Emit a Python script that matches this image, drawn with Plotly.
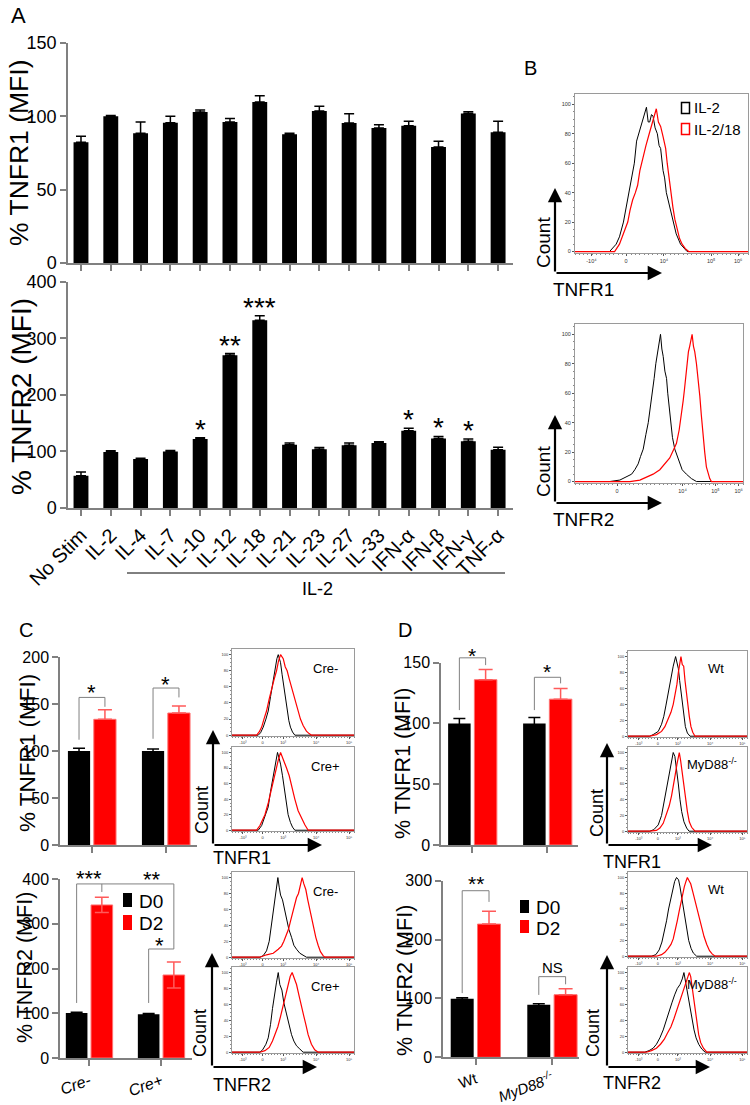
import plotly.graph_objects as go

W, H = 750, 1105          # target picture size
OFF = 0                   # page margin removed by the post script below
FW, FH = W - OFF, H - OFF
FONT = "Liberation Sans, Arial, Helvetica, sans-serif"
AX = "#808080"
RED = "#ff0000"
RED_EDGE = "#ff7070"
RED_ERR = "#ff5a5a"

# ================= DATA =================
# Panel A (% MFI, mean and SEM)
cytokines = ["No Stim", "IL-2", "IL-4", "IL-7", "IL-10", "IL-12", "IL-18", "IL-21",
             "IL-23", "IL-27", "IL-33", "IFN-α", "IFN-β", "IFN-γ", "TNF-α"]
tnfr1_mfi = [82.3, 100, 88.4, 95.7, 103, 96.1, 109.8, 87.7, 103.6, 95.5, 92, 93.6, 79.1, 102, 89.1]
tnfr1_err = [4.1, 0.6, 7.7, 4.3, 1.3, 2.5, 4.2, 0.7, 3.2, 6.3, 2.3, 3.0, 3.9, 1.2, 7.5]
tnfr2_mfi = [57, 98.8, 86.5, 100, 121.8, 270, 331.8, 111.8, 104, 111, 114.7, 136.5, 123, 118, 103]
tnfr2_err = [6.5, 2.2, 1.5, 1.8, 2.2, 3, 8.2, 2.9, 3, 3.7, 2.3, 4.5, 3.5, 4, 4.6]
tnfr2_sig = ["", "", "", "", "*", "**", "***", "", "", "", "", "*", "*", "*", ""]

# Panel C
c_groups = ["Cre-", "Cre+"]
c_tnfr1_d0 = [100, 100]
c_tnfr1_d0_err = [3, 2]
c_tnfr1_d2 = [133.7, 140.4]
c_tnfr1_d2_err = [10.3, 7.6]
c_tnfr2_d0 = [100.5, 98]
c_tnfr2_d0_err = [1.5, 1.5]
c_tnfr2_d2 = [342, 185.5]
c_tnfr2_d2_err = [17, 29]

# Panel D
d_groups = ["Wt", "MyD88-/-"]
d_tnfr1_d0 = [100, 100]
d_tnfr1_d0_err = [4, 5]
d_tnfr1_d2 = [136, 120]
d_tnfr1_d2_err = [8.4, 8.8]
d_tnfr2_d0 = [99.5, 89.3]
d_tnfr2_d0_err = [1.5, 1.7]
d_tnfr2_d2 = [226.3, 106.3]
d_tnfr2_d2_err = [21.7, 10.2]

# Flow histograms: x = position on display scale (0-100), y = count (% of max)
b1_black_x = [0, 20, 23.8, 25.7, 28, 29.9, 31.4, 33, 34.3, 35.6, 36.8, 38.1, 39.4, 40.6, 41.3, 42.3, 43.2, 44.2, 45.1, 46.3, 47.6, 48.6, 49.5, 50.9, 51.8, 52.8, 54.7, 56.6, 58.5, 61, 64.8, 100]
b1_black_y = [0, 0, 5, 10, 20, 32, 40, 52, 60, 75, 80, 85, 90, 96, 98, 88, 88, 93, 92, 84, 80, 72, 70, 55, 50, 40, 30, 20, 12, 5, 0, 0]
b1_red_x = [0, 22.9, 25.7, 28, 30.5, 31.8, 33.3, 34.9, 36.2, 37.5, 39.4, 41, 42.9, 44.4, 45.7, 47, 48.2, 49.5, 50.9, 52.4, 53.3, 54.3, 55.4, 56.6, 57.7, 59, 60.4, 61.9, 63.8, 65.7, 100]
b1_red_y = [0, 0, 5, 12, 20, 28, 35, 40, 45, 55, 65, 72, 80, 86, 90, 97, 88, 85, 78, 70, 60, 50, 40, 30, 22, 15, 9, 5, 2, 0, 0]
b2_black_x = [0, 20.8, 26.7, 30.7, 33.7, 35.6, 37.6, 39, 40.6, 42.2, 43.6, 45, 46.1, 47.1, 48.1, 49.1, 50.1, 50.9, 51.7, 52.5, 53.5, 54.5, 55.2, 56, 57, 58, 59.4, 61.4, 63.8, 66.3, 69.3, 72.3, 100]
b2_black_y = [0, 0, 1, 3, 5, 8, 12, 17, 22, 32, 40, 52, 60, 70, 80, 88, 95, 100, 90, 85, 75, 70, 60, 50, 40, 30, 22, 15, 8, 5, 2, 0, 0]
b2_red_x = [0, 32.7, 38.6, 42.6, 46.5, 50.5, 53.5, 56.4, 58.8, 60.4, 62, 63.4, 64.4, 65.1, 65.7, 66.7, 67.5, 68.3, 69.1, 69.7, 70.5, 71.3, 72.3, 73.3, 74.3, 75.2, 76.2, 77.2, 78.2, 79.2, 80.2, 81.2, 100]
b2_red_y = [0, 0, 1, 3, 5, 8, 12, 16, 22, 26, 35, 45, 55, 62, 70, 80, 88, 92, 97, 100, 92, 88, 80, 70, 58, 45, 30, 20, 10, 5, 2, 0, 0]

c_h1_black_x = [0, 21.5, 23.4, 25.6, 27.8, 29.7, 31.6, 33, 34.3, 35.7, 36.8, 37.9, 38.96, 39.8, 41.1, 42.5, 43.9, 45.2, 46.6, 47.9, 49.6, 51.5, 100]
c_h1_black_y = [0, 0, 3, 10, 20, 30, 48, 60, 75, 85, 95, 100, 92, 90, 75, 60, 45, 30, 18, 10, 4, 0, 0]
c_h1_red_x = [0, 20.2, 22.3, 24.3, 26.2, 28.3, 30.5, 32.4, 34.3, 36.5, 38.1, 39.8, 40.9, 42, 43.6, 45.2, 46.9, 48.8, 50.7, 52.3, 54.2, 56.1, 58.3, 61, 63.2, 65.1, 100]
c_h1_red_y = [0, 0, 4, 10, 20, 30, 45, 55, 68, 80, 92, 100, 97, 95, 85, 80, 70, 60, 48, 40, 30, 20, 12, 5, 2, 0, 0]
c_h2_black_x = [0, 21.5, 24.3, 27, 29.7, 31.6, 33.8, 35.4, 37.3, 38.7, 39.8, 41.4, 43.3, 44.7, 46, 47.9, 49.6, 51.5, 100]
c_h2_black_y = [0, 0, 6, 18, 30, 50, 70, 85, 100, 92, 85, 70, 50, 35, 20, 10, 4, 0, 0]
c_h2_red_x = [0, 20.2, 22.9, 25.1, 27, 29.7, 31.9, 33.8, 36, 37.9, 39.8, 41.1, 42.5, 44.7, 46.9, 49, 51.5, 54.2, 56.9, 59.7, 62.4, 100]
c_h2_red_y = [0, 0, 6, 14, 20, 35, 50, 65, 80, 90, 100, 95, 90, 80, 70, 55, 40, 25, 15, 7, 0, 0]
c_h3_black_x = [0, 22.9, 25.6, 28.3, 30.5, 32.4, 33.8, 35.1, 36.5, 37.6, 38.7, 39.8, 41.4, 43.1, 44.7, 46.6, 48.8, 50.7, 52.9, 55.6, 61, 100]
c_h3_black_y = [0, 0, 2, 8, 20, 40, 55, 70, 82, 100, 88, 78, 72, 60, 50, 35, 25, 15, 10, 5, 0, 0]
c_h3_red_x = [0, 22.9, 28.3, 33.8, 37.9, 40.6, 42.5, 44.7, 46.3, 47.9, 49.6, 51.2, 52.9, 54.5, 56.1, 57.5, 58.9, 60.5, 62.1, 63.8, 65.4, 67, 68.7, 70.6, 72.5, 74.7, 76, 100]
c_h3_red_y = [0, 0, 3, 5, 10, 14, 20, 28, 35, 45, 55, 65, 75, 80, 90, 100, 92, 85, 72, 60, 45, 35, 25, 15, 7, 2, 0, 0]
c_h4_black_x = [0, 22.9, 25.1, 27.8, 29.7, 31.6, 33.2, 34.9, 36.5, 37.9, 39.2, 40.9, 42.5, 44.7, 46.9, 48.8, 50.7, 52.9, 55.6, 58.3, 100]
c_h4_black_y = [0, 0, 3, 10, 18, 35, 55, 75, 88, 100, 85, 78, 62, 48, 32, 22, 14, 8, 4, 0, 0]
c_h4_red_x = [0, 22.9, 27, 30.5, 33.2, 35.4, 37.6, 39.8, 42, 43.9, 46, 47.7, 49.3, 50.9, 52.9, 54.8, 56.9, 58.9, 60.5, 62.4, 65.1, 67.8, 70.6, 100]
c_h4_red_y = [0, 0, 2, 6, 14, 22, 32, 45, 60, 72, 85, 95, 100, 92, 85, 72, 60, 45, 35, 22, 10, 3, 0, 0]

d_h1_black_x = [0, 18.3, 21.1, 25.4, 28.2, 30.1, 31.8, 33.2, 34.6, 36.3, 38, 40, 41.1, 42.3, 43.4, 44.5, 45.6, 46.8, 48.2, 49.9, 52.1, 100]
d_h1_black_y = [0, 0, 2, 6, 15, 25, 38, 50, 62, 78, 88, 100, 92, 85, 70, 55, 40, 25, 12, 4, 0, 0]
d_h1_red_x = [0, 18.3, 23.9, 28.2, 31, 33.8, 36.1, 38, 39.7, 41.1, 42.3, 43.4, 44.5, 45.6, 46.8, 47.9, 49, 50.1, 51.5, 52.9, 54.4, 56.3, 100]
d_h1_red_y = [0, 0, 2, 6, 12, 22, 30, 40, 52, 65, 80, 90, 100, 90, 88, 70, 55, 40, 25, 12, 5, 0, 0]
d_h2_black_x = [0, 18.3, 21.7, 25.4, 28.2, 30.1, 31.8, 33.5, 35.2, 36.9, 38, 39.4, 40.8, 42.3, 43.7, 45.1, 47, 49.3, 51.3, 100]
d_h2_black_y = [0, 0, 2, 8, 20, 35, 48, 62, 78, 92, 100, 95, 80, 60, 40, 25, 12, 4, 0, 0]
d_h2_red_x = [0, 18.3, 23.9, 26.8, 29.6, 32.4, 34.6, 36.6, 38.3, 39.7, 41.1, 42.3, 43.1, 44.2, 45.4, 46.8, 48.2, 49.9, 51.5, 53.5, 56.3, 100]
d_h2_red_y = [0, 0, 1, 4, 10, 22, 32, 45, 58, 72, 85, 95, 100, 90, 75, 58, 42, 25, 12, 5, 0, 0]
d_h3_black_x = [0, 19.7, 23.4, 26.2, 28.5, 30.4, 32.4, 34.1, 35.8, 37.5, 39.2, 40.8, 42.5, 43.7, 45.1, 46.5, 47.9, 49.3, 51, 53, 54.9, 57.7, 100]
d_h3_black_y = [0, 0, 2, 8, 18, 30, 45, 60, 72, 85, 95, 100, 97, 88, 75, 60, 45, 32, 20, 10, 4, 0, 0]
d_h3_red_x = [0, 23.9, 28.2, 31, 33.8, 36.1, 38, 39.7, 41.4, 43.1, 44.5, 45.9, 47.3, 48.7, 49.9, 51.3, 52.7, 54.4, 56.1, 57.7, 59.7, 61.7, 63.9, 66.2, 68.5, 70.7, 73.2, 100]
d_h3_red_y = [0, 0, 2, 5, 10, 15, 22, 32, 45, 58, 68, 80, 88, 95, 100, 96, 92, 82, 72, 60, 48, 38, 25, 15, 7, 3, 0, 0]
d_h4_black_x = [0, 14.1, 17.7, 21.1, 23.9, 26.8, 29.6, 32.4, 34.6, 36.9, 39.2, 41.4, 43.7, 45.6, 47, 48.2, 49.3, 50.7, 52.1, 53.8, 55.5, 57.2, 59.4, 62, 64.8, 100]
d_h4_black_y = [0, 0, 2, 5, 10, 18, 28, 42, 52, 62, 72, 80, 85, 92, 100, 90, 80, 68, 55, 40, 28, 18, 10, 4, 0, 0]
d_h4_red_x = [0, 15.5, 19.7, 23.9, 27.3, 30.4, 33.2, 36.1, 38.6, 40.8, 43.1, 45.1, 47, 48.7, 50.1, 51.5, 52.7, 53.8, 54.9, 56.3, 57.7, 59.4, 61.1, 63.4, 66.2, 100]
d_h4_red_y = [0, 0, 2, 5, 10, 16, 24, 32, 42, 52, 62, 72, 80, 88, 95, 100, 95, 82, 68, 52, 38, 22, 12, 5, 0, 0]

# Histogram axis tick labels
b1_xtick_pos = [9.5, 29.5, 51.4, 78.7, 94.3]
b1_xtick_lab = ["-10⁴", "0", "10⁴", "10⁵", "10⁶"]
b2_xtick_pos = [25, 64, 83.6, 97.4]
b2_xtick_lab = ["0", "10⁴", "10⁵", "10⁶"]
small_xtick_pos = [9, 25, 42, 69, 96]
small_xtick_lab = ["-10³", "0", "10³", "10⁴", "10⁵"]
hist_ytick = [0, 20, 40, 60, 80, 100]

# ================= HELPERS =================
def px(x):
    return (x - OFF) / FW


def py(y):
    return 1 - (y - OFF) / FH


def xdom(a, b):
    return [px(a), px(b)]


def ydom(top, bottom):
    return [py(bottom), py(top)]


fig = go.Figure()
axes = {}
annotations = []
shapes = []


def add_axes(n, xd, yd, xcfg, ycfg):
    ref = "" if n == 1 else str(n)
    axes["xaxis" + ref] = dict(domain=xd, anchor="y" + ref, **xcfg)
    axes["yaxis" + ref] = dict(domain=yd, anchor="x" + ref, **ycfg)
    return "x" + ref, "y" + ref


def bar_y(rng, dtick, fs):
    return dict(range=rng, tickvals=list(range(0, rng[1] + 1, dtick)), showline=True,
                linecolor=AX, linewidth=1.5, ticks="outside", ticklen=6, tickwidth=1.5,
                tickcolor=AX, tickfont=dict(size=fs, color="black", family=FONT),
                showgrid=False, zeroline=False)


def bar_x(rng, **kw):
    d = dict(range=rng, showline=True, linecolor=AX, linewidth=1.5, ticks="outside",
             ticklen=6, tickwidth=1.5, tickcolor=AX, showgrid=False, zeroline=False)
    d.update(kw)
    return d


def text(x, y, t, size, angle=0, xanchor="center", color="black"):
    annotations.append(dict(xref="paper", yref="paper", x=px(x), y=py(y), text=t,
                            showarrow=False, textangle=angle, xanchor=xanchor, yanchor="middle",
                            font=dict(size=size, family=FONT, color=color)))


def arrow(xt, yt, xs, ys):
    annotations.append(dict(xref="paper", yref="paper", x=px(xt), y=py(yt), ax=xs - xt, ay=ys - yt,
                            axref="pixel", ayref="pixel", text="", showarrow=True, arrowhead=2,
                            arrowsize=1.3, arrowwidth=2.2, arrowcolor="black", standoff=0))


def star(xa, ya, ymax, x, y, t, fs, star_glyph=True):
    annotations.append(dict(xref=xa, yref=ya + " domain", x=x, y=y / ymax, text=t, showarrow=False,
                            xanchor="center", yanchor="middle",
                            yshift=-0.22 * fs if star_glyph else 0,
                            font=dict(size=fs, family=FONT, color="black")))


def seg(xa, ya, ymax, x0, y0, x1, y1):
    shapes.append(dict(type="line", xref=xa, yref=ya + " domain", x0=x0, x1=x1,
                       y0=y0 / ymax, y1=y1 / ymax, line=dict(color=AX, width=1)))


def bracket(xa, ya, ymax, xl, yl, yt, xr, yr):
    seg(xa, ya, ymax, xl, yl, xl, yt)
    seg(xa, ya, ymax, xl, yt, xr, yt)
    seg(xa, ya, ymax, xr, yt, xr, yr)


SEP, BW = 0.175, 0.30


def bar_pair(xa, ya, cats, d0, e0, d2, e2, sym=False):
    fig.add_trace(go.Bar(x=cats, y=d0, width=BW, offset=-SEP - BW / 2,
                         marker=dict(color="black", line=dict(width=0)),
                         error_y=dict(type="data", array=e0, arrayminus=e0, color="black",
                                      thickness=1.5, width=6),
                         xaxis=xa, yaxis=ya, showlegend=False))
    fig.add_trace(go.Bar(x=cats, y=d2, width=BW, offset=SEP - BW / 2,
                         marker=dict(color=RED, line=dict(color=RED_EDGE, width=1)),
                         error_y=dict(type="data", array=e2, arrayminus=e2 if sym else [0] * len(e2),
                                      color=RED_ERR, thickness=1.5, width=7),
                         xaxis=xa, yaxis=ya, showlegend=False))


def hist_axes(n, xl, xr, yt, yb, fs, xt, xlab):
    common = dict(showline=True, mirror=True, linecolor="#9a9a9a", linewidth=1,
                  ticks="outside", ticklen=2, tickwidth=0.7, tickcolor="#555",
                  tickfont=dict(size=fs, color="#333", family=FONT),
                  showgrid=False, zeroline=False)
    xc = dict(range=[0, 100], tickvals=xt, ticktext=xlab,
              minor=dict(ticks="outside", ticklen=1.2, dtick=2.5, tickcolor="#888"), **common)
    yc = dict(range=[-1, 107], tickvals=hist_ytick,
              minor=dict(ticks="outside", ticklen=1.2, dtick=5, tickcolor="#888"), **common)
    return add_axes(n, xdom(xl, xr), ydom(yt, yb), xc, yc)


def hist(xa, ya, bx, by, rx, ry):
    fig.add_trace(go.Scatter(x=bx, y=by, mode="lines", line=dict(color="black", width=1),
                             xaxis=xa, yaxis=ya, showlegend=False, hoverinfo="skip"))
    fig.add_trace(go.Scatter(x=rx, y=ry, mode="lines", line=dict(color=RED, width=1.2),
                             xaxis=xa, yaxis=ya, showlegend=False, hoverinfo="skip"))


# ================= PANEL A =================
xa1, ya1 = add_axes(1, xdom(68, 513), ydom(43, 263),
                    bar_x([-0.436, 14.5], showticklabels=False),
                    bar_y([0, 150], 50, 18))
fig.add_trace(go.Bar(x=cytokines, y=tnfr1_mfi, width=0.5, marker=dict(color="black", line=dict(width=0)),
                     error_y=dict(type="data", array=tnfr1_err, arrayminus=[0] * 15, color="black",
                                  thickness=1.5, width=5),
                     xaxis=xa1, yaxis=ya1, showlegend=False))

xa2, ya2 = add_axes(2, xdom(68, 513), ydom(281.7, 508),
                    bar_x([-0.436, 14.5], tickangle=-45,
                          tickfont=dict(size=20, color="black", family=FONT)),
                    bar_y([0, 400], 100, 18))
fig.add_trace(go.Bar(x=cytokines, y=tnfr2_mfi, width=0.5, marker=dict(color="black", line=dict(width=0)),
                     error_y=dict(type="data", array=tnfr2_err, arrayminus=[0] * 15, color="black",
                                  thickness=1.5, width=5),
                     xaxis=xa2, yaxis=ya2, showlegend=False))
for i, s in enumerate(tnfr2_sig):
    if s:
        star(xa2, ya2, 400, i, tnfr2_mfi[i] + tnfr2_err[i] + 26, s, 28)

text(19, 153, "% TNFR1 (MFI)", 26.5, angle=-90)
text(21, 397, "% TNFR2 (MFI)", 28, angle=-90)
text(18, 16, "A", 22)
shapes.append(dict(type="line", xref="paper", yref="paper", x0=px(127), x1=px(505), y0=py(573), y1=py(573),
                   line=dict(color="black", width=1)))
text(317, 589, "IL-2", 18)

# ================= PANEL B =================
xb1, yb1 = hist_axes(7, 575, 748, 94, 253, 5.5, b1_xtick_pos, b1_xtick_lab)
hist(xb1, yb1, b1_black_x, b1_black_y, b1_red_x, b1_red_y)
xb2, yb2 = hist_axes(8, 575, 743, 324, 483, 5.5, b2_xtick_pos, b2_xtick_lab)
hist(xb2, yb2, b2_black_x, b2_black_y, b2_red_x, b2_red_y)
text(530, 68, "B", 20)
shapes.append(dict(type="rect", xref="paper", yref="paper", x0=px(681.5), x1=px(689.5), y0=py(113.5), y1=py(102.5),
                   line=dict(color="black", width=1.5), fillcolor="rgba(0,0,0,0)"))
shapes.append(dict(type="rect", xref="paper", yref="paper", x0=px(681.5), x1=px(689.5), y0=py(134.5), y1=py(123.5),
                   line=dict(color=RED, width=1.5), fillcolor="rgba(0,0,0,0)"))
text(692, 108, "IL-2", 15, xanchor="left")
text(692, 129, "IL-2/18", 15, xanchor="left")
arrow(555, 188, 555, 273)
arrow(662, 273, 555, 273)
text(543, 243, "Count", 19, angle=-90)
text(583, 290, "TNFR1", 19)
arrow(555, 415, 555, 503)
arrow(662, 503, 555, 503)
text(543, 472, "Count", 19, angle=-90)
text(583, 519, "TNFR2", 19)

# ================= PANEL C =================
xc1, yc1 = add_axes(3, xdom(60, 197), ydom(657, 845),
                    bar_x([-0.432, 1.419], tickvals=c_groups, showticklabels=False),
                    bar_y([0, 200], 50, 16))
bar_pair(xc1, yc1, c_groups, c_tnfr1_d0, c_tnfr1_d0_err, c_tnfr1_d2, c_tnfr1_d2_err)
bracket(xc1, yc1, 200, 0 - SEP, 112, 157, 0 + SEP, 147)
star(xc1, yc1, 200, 0, 167, "*", 22)
bracket(xc1, yc1, 200, 1 - SEP, 113, 167, 1 + SEP, 157)
star(xc1, yc1, 200, 1, 175.5, "*", 22)

xc2, yc2 = add_axes(4, xdom(60, 192), ydom(879, 1058),
                    bar_x([-0.406, 1.427], tickvals=c_groups,
                          ticktext=["<i>Cre-</i>", "<i>Cre+</i>"], tickangle=-20,
                          tickfont=dict(size=16, color="black", family=FONT)),
                    bar_y([0, 400], 100, 16))
bar_pair(xc2, yc2, c_groups, c_tnfr2_d0, c_tnfr2_d0_err, c_tnfr2_d2, c_tnfr2_d2_err, sym=True)
seg(xc2, yc2, 400, 0 - SEP, 123, 0 - SEP, 389)
seg(xc2, yc2, 400, 0 - SEP, 389, 1 + SEP, 389)
seg(xc2, yc2, 400, 0 + SEP, 389, 0 + SEP, 371)
seg(xc2, yc2, 400, 1 + SEP, 389, 1 + SEP, 243.6)
seg(xc2, yc2, 400, 1 - SEP, 243.6, 1 + SEP, 243.6)
seg(xc2, yc2, 400, 1 - SEP, 243.6, 1 - SEP, 123)
star(xc2, yc2, 400, 0, 413, "***", 22)
star(xc2, yc2, 400, 0.87, 409, "**", 22)
star(xc2, yc2, 400, 0.98, 262, "*", 22)
shapes.append(dict(type="rect", xref="paper", yref="paper", x0=px(123), x1=px(132), y0=py(907), y1=py(893),
                   line=dict(width=0), fillcolor="black"))
shapes.append(dict(type="rect", xref="paper", yref="paper", x0=px(123), x1=px(132), y0=py(930), y1=py(915),
                   line=dict(width=0), fillcolor=RED))
text(137, 901, "D0", 19, xanchor="left")
text(137, 923, "D2", 19, xanchor="left")
text(26, 630, "C", 20)
text(27, 753, "% TNFR1 (MFI)", 22.5, angle=-90)
text(25, 968, "% TNFR2 (MFI)", 21.5, angle=-90)

c_hist_rows = [(649, 736), (747, 831), (872, 958), (967, 1053)]
c_hist_data = [(c_h1_black_x, c_h1_black_y, c_h1_red_x, c_h1_red_y),
               (c_h2_black_x, c_h2_black_y, c_h2_red_x, c_h2_red_y),
               (c_h3_black_x, c_h3_black_y, c_h3_red_x, c_h3_red_y),
               (c_h4_black_x, c_h4_black_y, c_h4_red_x, c_h4_red_y)]
c_hist_labels = ["Cre-", "Cre+", "Cre-", "Cre+"]
for k, ((t, b), dat, lab) in enumerate(zip(c_hist_rows, c_hist_data, c_hist_labels)):
    xa, ya = hist_axes(9 + k, 232, 354, t, b, 4, small_xtick_pos, small_xtick_lab)
    hist(xa, ya, *dat)
    text(325, t + 19, lab, 13)
arrow(213, 730, 213, 845)
arrow(322, 845, 213, 845)
text(202, 810, "Count", 18, angle=-90)
text(242, 858, "TNFR1", 18)
arrow(212, 953, 212, 1067)
arrow(317, 1067, 212, 1067)
text(200, 1033, "Count", 18, angle=-90)
text(242, 1085, "TNFR2", 18)

# ================= PANEL D =================
xd1, yd1 = add_axes(5, xdom(441, 578), ydom(662.7, 845),
                    bar_x([-0.42, 1.407], tickvals=d_groups, showticklabels=False),
                    bar_y([0, 150], 50, 16))
bar_pair(xd1, yd1, d_groups, d_tnfr1_d0, d_tnfr1_d0_err, d_tnfr1_d2, d_tnfr1_d2_err)
bracket(xd1, yd1, 150, 0 - SEP, 111, 154, 0 + SEP, 148)
star(xd1, yd1, 150, 0, 159.7, "*", 21)
bracket(xd1, yd1, 150, 1 - SEP, 111, 138, 1 + SEP, 133)
star(xd1, yd1, 150, 1, 146.5, "*", 21)

xd2, yd2 = add_axes(6, xdom(443, 579), ydom(880.7, 1057.3),
                    bar_x([-0.4256, 1.35], tickvals=d_groups,
                          ticktext=["Wt", "<i>MyD88<sup>-/-</sup></i>"], tickangle=-20,
                          tickfont=dict(size=15, color="black", family=FONT)),
                    bar_y([0, 300], 100, 16))
bar_pair(xd2, yd2, d_groups, d_tnfr2_d0, d_tnfr2_d0_err, d_tnfr2_d2, d_tnfr2_d2_err)
bracket(xd2, yd2, 300, 0 - SEP, 109, 283, 0 + SEP, 264)
star(xd2, yd2, 300, 0, 303.4, "**", 21)
bracket(xd2, yd2, 300, 1 - SEP, 106, 137, 1 + SEP, 124)
star(xd2, yd2, 300, 1, 152.3, "NS", 15, star_glyph=False)
shapes.append(dict(type="rect", xref="paper", yref="paper", x0=px(520), x1=px(529), y0=py(913), y1=py(900),
                   line=dict(width=0), fillcolor="black"))
shapes.append(dict(type="rect", xref="paper", yref="paper", x0=px(520), x1=px(529), y0=py(933), y1=py(920),
                   line=dict(width=0), fillcolor=RED))
text(534, 907, "D0", 19, xanchor="left")
text(534, 928, "D2", 19, xanchor="left")
text(405, 630, "D", 20)
text(403, 764, "% TNFR1 (MFI)", 21.5, angle=-90)
text(405, 981, "% TNFR2 (MFI)", 21.5, angle=-90)

d_hist_rows = [(651, 737), (747, 832), (872, 957), (967, 1053)]
d_hist_data = [(d_h1_black_x, d_h1_black_y, d_h1_red_x, d_h1_red_y),
               (d_h2_black_x, d_h2_black_y, d_h2_red_x, d_h2_red_y),
               (d_h3_black_x, d_h3_black_y, d_h3_red_x, d_h3_red_y),
               (d_h4_black_x, d_h4_black_y, d_h4_red_x, d_h4_red_y)]
d_hist_labels = ["Wt", "MyD88<sup>-/-</sup>", "Wt", "MyD88<sup>-/-</sup>"]
d_label_x = [716, 712, 716, 712]
for k, ((t, b), dat, lab, lx) in enumerate(zip(d_hist_rows, d_hist_data, d_hist_labels, d_label_x)):
    xa, ya = hist_axes(13 + k, 628, 747, t, b, 4, small_xtick_pos, small_xtick_lab)
    hist(xa, ya, *dat)
    text(lx, t + 17, lab, 13)
arrow(607, 743, 607, 845)
arrow(712, 845, 607, 845)
text(597, 813, "Count", 18, angle=-90)
text(632, 862, "TNFR1", 18)
arrow(607, 955, 607, 1067)
arrow(710, 1067, 607, 1067)
text(593, 1033, "Count", 18, angle=-90)
text(632, 1083, "TNFR2", 18)

fig.update_layout(width=FW, height=FH, margin=dict(l=0, r=0, t=0, b=0, autoexpand=False),
                  paper_bgcolor="white", plot_bgcolor="rgba(0,0,0,0)", showlegend=False,
                  font=dict(family=FONT, color="black"), annotations=annotations, shapes=shapes,
                  **axes)
fig.write_html("out.html", config={"displayModeBar": False},
               post_script="document.body.style.margin='0';document.body.style.overflow='hidden';")
